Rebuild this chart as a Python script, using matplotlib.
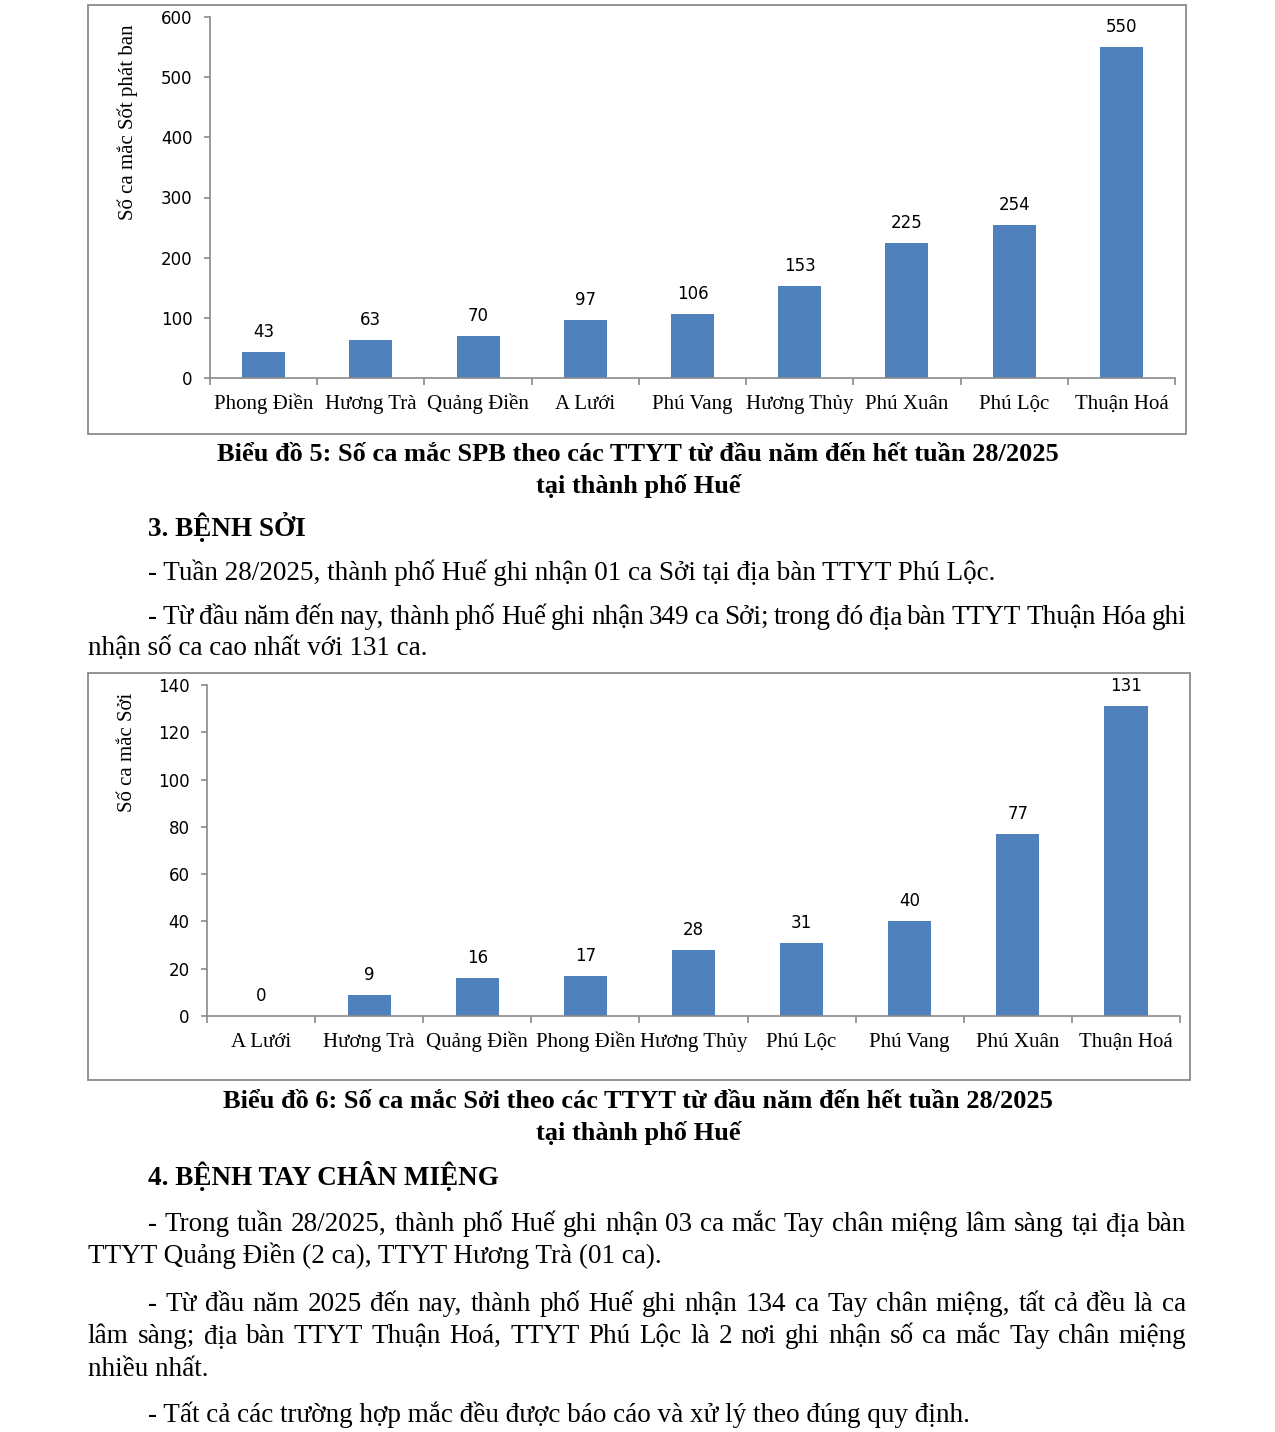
import numpy as np
import matplotlib.pyplot as plt
from matplotlib.patches import Rectangle

W, H = 1275, 1432

# Biểu đồ 5 - Sốt phát ban
cat1 = ['Phong Điền', 'Hương Trà', 'Quảng Điền', 'A Lưới', 'Phú Vang',
        'Hương Thủy', 'Phú Xuân', 'Phú Lộc', 'Thuận Hoá']
val1 = [43, 63, 70, 97, 106, 153, 225, 254, 550]

# Biểu đồ 6 - Sởi
cat2 = ['A Lưới', 'Hương Trà', 'Quảng Điền', 'Phong Điền', 'Hương Thủy',
        'Phú Lộc', 'Phú Vang', 'Phú Xuân', 'Thuận Hoá']
val2 = [0, 9, 16, 17, 28, 31, 40, 77, 131]

SERIF = 'Liberation Serif'
BLUE = '#4F81BD'
GRAY = '#8a8a8a'

fig = plt.figure(figsize=(W / 100, H / 100), dpi=100)


def fx(x):
    return x / W


def fy(y):
    return 1 - y / H


def box(x0, y0, x1, y1):
    fig.patches.append(Rectangle((fx(x0), fy(y1)), (x1 - x0) / W, (y1 - y0) / H,
                                 transform=fig.transFigure, fill=False,
                                 edgecolor=GRAY, lw=1.3))


def chart(x0, y0, x1, y1, cats, vals, ymax, step, ylabel, ylab_y):
    ax = fig.add_axes([fx(x0), fy(y1), (x1 - x0) / W, (y1 - y0) / H])
    x = np.arange(len(cats))
    bars = ax.bar(x, vals, width=0.4, color=BLUE)
    ax.set_xlim(-0.5, len(cats) - 0.5)
    ax.set_ylim(0, ymax)
    ax.set_yticks(np.arange(0, ymax + 1, step))
    ax.set_xticks(np.arange(-0.5, len(cats), 1))
    ax.set_xticklabels([])
    ax.set_xticks(x, minor=True)
    ax.set_xticklabels(cats, minor=True, fontfamily=SERIF, fontsize=15)
    ax.tick_params(axis='x', which='minor', length=0, pad=22.5)
    ax.tick_params(axis='x', which='major', length=5, color=GRAY, width=1.2)
    ax.tick_params(axis='y', length=4.5, color=GRAY, width=1.2, labelsize=12, pad=8)
    # canh chữ theo đường cơ sở để các nhãn thẳng hàng
    for t in ax.get_xticklabels(minor=True):
        t.set_va('baseline')
    for s in ['top', 'right']:
        ax.spines[s].set_visible(False)
    for s in ['left', 'bottom']:
        ax.spines[s].set_color(GRAY)
        ax.spines[s].set_linewidth(1.2)
    labels = ax.bar_label(bars, padding=8, fontsize=12)
    for t in labels:
        t.set_clip_on(False)
    fig.text(fx(128), fy(ylab_y), ylabel, rotation=90, ha='center', va='center',
             fontfamily=SERIF, fontsize=15)
    return ax


box(88, 5, 1186, 434)
chart(210, 17, 1175, 378, cat1, val1, 600, 100, 'Số ca mắc Sốt phát ban', 122)

box(88, 673, 1190, 1080)
chart(207, 685, 1180, 1016, cat2, val2, 140, 20, 'Số ca mắc Sởi', 752)

renderer = fig.canvas.get_renderer()
BODY = 19.5


def line(text, x, y, bold=False, ha='left', size=BODY):
    fig.text(fx(x), fy(y), text, ha=ha, va='baseline', fontfamily=SERIF,
             fontsize=size, fontweight='bold' if bold else 'normal')


def justify(text, x0, x1, y):
    words = text.split()
    ts = [fig.text(0, 0, w, va='baseline', fontfamily=SERIF, fontsize=BODY) for w in words]
    widths = [t.get_window_extent(renderer).width for t in ts]
    gap = (x1 - x0 - sum(widths)) / (len(words) - 1)
    xx = x0
    for t, w in zip(ts, widths):
        t.set_position((fx(xx), fy(y)))
        xx += w + gap


# Chú thích biểu đồ và nội dung
line('Biểu đồ 5: Số ca mắc SPB theo các TTYT từ đầu năm đến hết tuần 28/2025', 638, 461, True, 'center', 19)
line('tại thành phố Huế', 638, 493, True, 'center', 19)
line('3. BỆNH SỞI', 148, 536, True)
line('- Tuần 28/2025, thành phố Huế ghi nhận 01 ca Sởi tại địa bàn TTYT Phú Lộc.', 148, 580)
justify('- Từ đầu năm đến nay, thành phố Huế ghi nhận 349 ca Sởi; trong đó địa bàn TTYT Thuận Hóa ghi', 148, 1186, 624)
line('nhận số ca cao nhất với 131 ca.', 88, 655)

line('Biểu đồ 6: Số ca mắc Sởi theo các TTYT từ đầu năm đến hết tuần 28/2025', 638, 1108, True, 'center', 19)
line('tại thành phố Huế', 638, 1140, True, 'center', 19)
line('4. BỆNH TAY CHÂN MIỆNG', 148, 1185, True)
justify('- Trong tuần 28/2025, thành phố Huế ghi nhận 03 ca mắc Tay chân miệng lâm sàng tại địa bàn', 148, 1186, 1231)
line('TTYT Quảng Điền (2 ca), TTYT Hương Trà (01 ca).', 88, 1263)
justify('- Từ đầu năm 2025 đến nay, thành phố Huế ghi nhận 134 ca Tay chân miệng, tất cả đều là ca', 148, 1186, 1311)
justify('lâm sàng; địa bàn TTYT Thuận Hoá, TTYT Phú Lộc là 2 nơi ghi nhận số ca mắc Tay chân miệng', 88, 1186, 1343)
line('nhiều nhất.', 88, 1376)
line('- Tất cả các trường hợp mắc đều được báo cáo và xử lý theo đúng quy định.', 148, 1422)

fig.savefig('out.png', dpi=100)
